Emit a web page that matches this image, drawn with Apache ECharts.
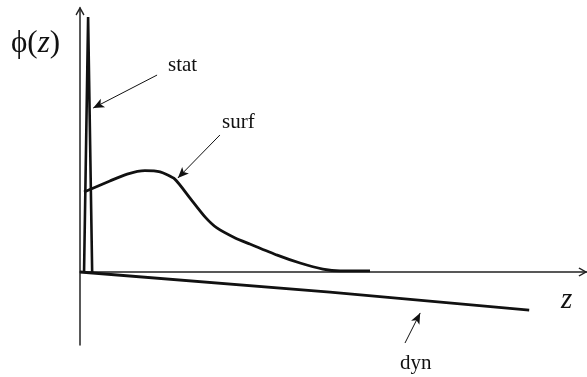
<!DOCTYPE html>
<html>
<head>
<meta charset="utf-8">
<script src="https://cdn.jsdelivr.net/npm/echarts@6/dist/echarts.min.js"></script>
<style>html,body{margin:0;padding:0;background:#fff}#c{width:587px;height:377px}</style>
</head>
<body>
<div id="c"></div>
<script>
// Data (arbitrary units: z along x, phi along y)
var statZ   = [0.08, 0.16, 0.24];
var statPhi = [0.00, 9.66, 0.00];
var surfZ   = [0.08, 0.59, 0.93, 1.28, 1.58, 1.87, 2.17, 2.47, 2.70, 3.06, 3.35, 3.89, 4.34, 4.79, 5.13, 5.72];
var surfPhi = [3.03, 3.45, 3.71, 3.84, 3.79, 3.52, 2.80, 2.08, 1.67, 1.29, 1.06, 0.64, 0.34, 0.11, 0.04, 0.04];
var dynZ    = [0.00, 4.93, 8.86];
var dynPhi  = [0.00, -0.76, -1.44];
// annotation pointer arrows: [zFrom, phiFrom, zTo, phiTo]
var pointerStat = [1.52, 7.46, 0.26, 6.21];
var pointerSurf = [2.76, 5.19, 1.93, 3.56];
var pointerDyn  = [6.41, -2.69, 6.71, -1.55];

function zip(a, b) { return a.map(function (v, i) { return [v, b[i]]; }); }
function seg(p) { return [{coord: [p[0], p[1]]}, {coord: [p[2], p[3]]}]; }

var chevron = 'path://M5,0 L10,9 L8.8,10 L5,3.2 L1.2,10 L0,9 Z';
var serif = '"Liberation Serif", "DejaVu Serif", serif';

var chart = echarts.init(document.getElementById('c'), null, {renderer: 'canvas'});
chart.setOption({
  animation: false,
  backgroundColor: '#fff',
  grid: {left: 80, right: 0, top: 8, bottom: 32, containLabel: false},
  xAxis: {
    type: 'value', min: 0, max: 10,
    axisLine: {show: true, onZero: true, symbol: ['none', chevron], symbolSize: [9, 11], symbolOffset: [0, -4],
      lineStyle: {color: '#222', width: 1.5}},
    axisTick: {show: false}, axisLabel: {show: false}, splitLine: {show: false}
  },
  yAxis: {
    type: 'value', min: -2.765, max: 10,
    axisLine: {show: true, onZero: false, symbol: ['none', chevron], symbolSize: [9, 11], symbolOffset: [0, -3],
      lineStyle: {color: '#222', width: 1.5}},
    axisTick: {show: false}, axisLabel: {show: false}, splitLine: {show: false}
  },
  graphic: [
    {type: 'text', left: 11, top: 28, style: {
      text: '{a|ϕ(}{b|z}{a|)}', rich: {
        a: {fontFamily: serif, fontSize: 31, fill: '#111'},
        b: {fontFamily: serif, fontSize: 31, fontStyle: 'italic', fill: '#111'}
      }}},
    {type: 'text', left: 168, top: 55, style: {text: 'stat', fontFamily: serif, fontSize: 21, fill: '#111'}},
    {type: 'text', left: 222, top: 112, style: {text: 'surf', fontFamily: serif, fontSize: 21, fill: '#111'}},
    {type: 'text', left: 400, top: 353, style: {text: 'dyn', fontFamily: serif, fontSize: 21, fill: '#111'}},
    {type: 'text', left: 561, top: 286, style: {text: 'z', fontFamily: serif, fontSize: 29, fontStyle: 'italic', fill: '#111'}}
  ],
  series: [
    {type: 'line', data: zip(statZ, statPhi), showSymbol: false, lineStyle: {color: '#111', width: 2.6}},
    {type: 'line', data: zip(surfZ, surfPhi), showSymbol: false, smooth: 0.2, lineStyle: {color: '#111', width: 2.8}},
    {type: 'line', data: zip(dynZ, dynPhi), showSymbol: false, lineStyle: {color: '#111', width: 2.8},
      markLine: {
        silent: true, symbol: ['none', 'arrow'], symbolSize: [7, 11],
        label: {show: false},
        lineStyle: {color: '#111', width: 1, type: 'solid'},
        data: [seg(pointerStat), seg(pointerSurf), seg(pointerDyn)]
      }}
  ]
});
</script>
</body>
</html>
